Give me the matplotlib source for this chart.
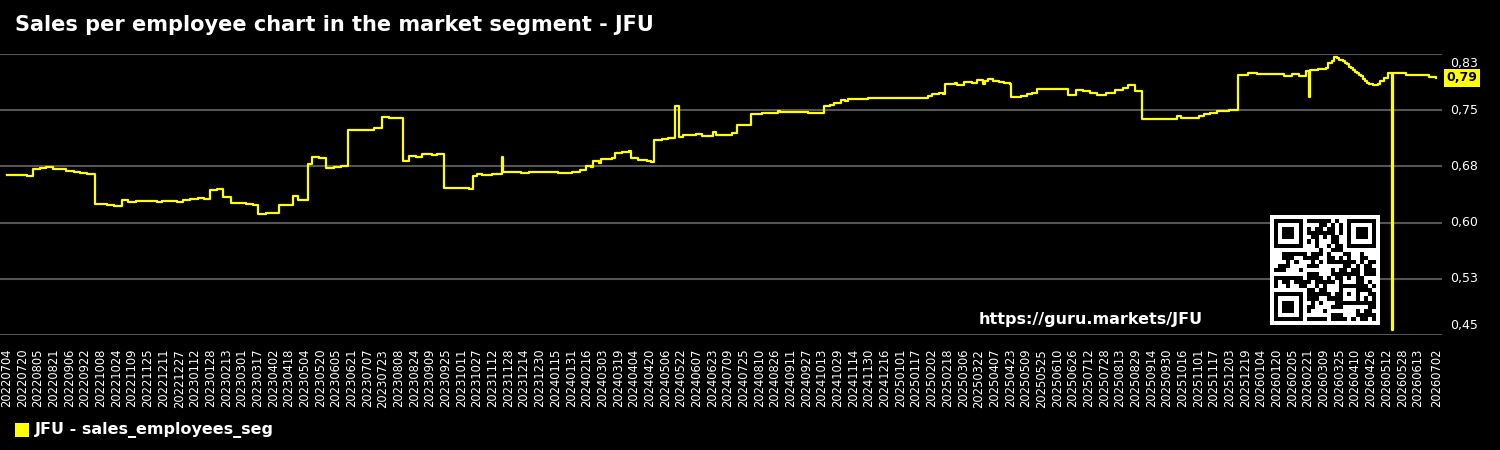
import hashlib
import numpy as np
import pandas as pd
import matplotlib
matplotlib.use("Agg")
import matplotlib.pyplot as plt
import matplotlib.dates as mdates
from matplotlib.patches import Rectangle
from matplotlib.transforms import blended_transform_factory, offset_copy

# Sales per employee (segment) - change points of the series
dates = [
    "2022-07-04", "2022-07-15", "2022-07-25", "2022-07-31", "2022-08-07", "2022-08-13",
    "2022-08-20", "2022-09-03", "2022-09-11", "2022-09-17", "2022-09-24", "2022-10-02",
    "2022-10-14", "2022-10-22", "2022-10-30", "2022-11-05", "2022-11-13", "2022-12-04",
    "2022-12-10", "2022-12-25", "2022-12-31", "2023-01-07", "2023-01-15", "2023-01-21",
    "2023-01-27", "2023-02-04", "2023-02-10", "2023-02-18", "2023-02-26", "2023-03-05",
    "2023-03-12", "2023-03-17", "2023-03-26", "2023-04-08", "2023-04-22", "2023-04-27",
    "2023-05-07", "2023-05-12", "2023-05-19", "2023-05-26", "2023-06-03", "2023-06-10",
    "2023-06-17", "2023-07-02", "2023-07-07", "2023-07-14", "2023-07-22", "2023-07-29",
    "2023-08-12", "2023-08-19", "2023-08-26", "2023-09-01", "2023-09-11", "2023-09-16",
    "2023-09-23", "2023-10-19", "2023-10-23", "2023-10-27", "2023-11-01", "2023-11-11",
    "2023-11-21", "2023-11-22", "2023-12-11", "2023-12-19", "2024-01-18", "2024-02-01",
    "2024-02-09", "2024-02-15", "2024-02-20", "2024-02-22", "2024-02-28", "2024-03-01",
    "2024-03-13", "2024-03-16", "2024-03-23", "2024-03-30", "2024-04-01", "2024-04-08",
    "2024-04-17", "2024-04-21", "2024-04-25", "2024-05-01", "2024-05-03", "2024-05-09",
    "2024-05-15", "2024-05-16", "2024-05-20", "2024-05-24", "2024-06-06", "2024-06-13",
    "2024-06-24", "2024-06-27", "2024-07-13", "2024-07-18", "2024-08-02", "2024-08-13",
    "2024-08-28", "2024-08-29", "2024-08-31", "2024-09-29", "2024-10-15", "2024-10-21",
    "2024-10-25", "2024-11-01", "2024-11-05", "2024-11-09", "2024-11-20", "2024-11-29",
    "2025-01-29", "2025-02-02", "2025-02-09", "2025-02-13", "2025-02-16", "2025-02-20",
    "2025-02-26", "2025-02-28", "2025-03-07", "2025-03-15", "2025-03-20", "2025-03-26",
    "2025-03-28", "2025-03-31", "2025-04-05", "2025-04-12", "2025-04-17", "2025-04-23",
    "2025-04-24", "2025-05-04", "2025-05-10", "2025-05-15", "2025-05-20", "2025-05-30",
    "2025-06-21", "2025-06-29", "2025-07-06", "2025-07-13", "2025-07-21", "2025-07-30",
    "2025-08-08", "2025-08-16", "2025-08-21", "2025-08-28", "2025-09-05", "2025-10-10",
    "2025-10-14", "2025-11-02", "2025-11-07", "2025-11-13", "2025-11-20", "2025-12-02",
    "2025-12-11", "2025-12-22", "2025-12-31", "2026-01-27", "2026-02-05", "2026-02-12",
    "2026-02-19", "2026-02-22", "2026-02-23", "2026-03-03", "2026-03-11", "2026-03-13",
    "2026-03-17", "2026-03-19", "2026-03-22", "2026-03-25", "2026-03-29", "2026-03-31",
    "2026-04-02", "2026-04-04", "2026-04-06", "2026-04-08", "2026-04-10", "2026-04-12",
    "2026-04-14", "2026-04-16", "2026-04-18", "2026-04-20", "2026-04-22", "2026-04-24",
    "2026-04-28", "2026-05-03", "2026-05-05", "2026-05-09", "2026-05-14", "2026-05-18",
    "2026-05-19", "2026-05-25", "2026-06-01", "2026-06-24", "2026-07-02",
]
values = [
    0.664, 0.663, 0.662, 0.672, 0.673, 0.6746,
    0.671, 0.669, 0.6675, 0.6666, 0.665, 0.6246,
    0.6233, 0.6224, 0.630, 0.6273, 0.6287, 0.6273,
    0.6287, 0.6273, 0.6295, 0.6313, 0.633, 0.632,
    0.6438, 0.6447, 0.6348, 0.6255, 0.6264, 0.6246,
    0.6233, 0.6117, 0.6126, 0.6233, 0.6358, 0.6295,
    0.6786, 0.687, 0.6862, 0.6723, 0.6742, 0.676,
    0.7242, 0.7232, 0.7242, 0.726, 0.7406, 0.7393,
    0.6822, 0.6884, 0.687, 0.6916, 0.6902, 0.692,
    0.6455, 0.6442, 0.6625, 0.6643, 0.6630, 0.665,
    0.688, 0.6675, 0.666, 0.667, 0.6666, 0.667,
    0.6696, 0.676, 0.6745, 0.6822, 0.680, 0.6844,
    0.6862, 0.6934, 0.6942, 0.6956, 0.686, 0.684,
    0.6817, 0.6804, 0.7108, 0.7099, 0.712, 0.7124,
    0.713, 0.7554, 0.7148, 0.717, 0.718, 0.716,
    0.7215, 0.717, 0.7192, 0.7304, 0.7451, 0.746,
    0.7464, 0.7487, 0.747, 0.7456, 0.7554, 0.7572,
    0.7594, 0.763, 0.7621, 0.7643, 0.7652, 0.7661,
    0.7693, 0.772, 0.7733, 0.772, 0.7844, 0.7853,
    0.7862, 0.784, 0.7871, 0.7857, 0.7898, 0.7848,
    0.789, 0.7911, 0.7893, 0.7875, 0.7864, 0.7853,
    0.7674, 0.7687, 0.772, 0.7733, 0.7777, 0.7781,
    0.770, 0.7768, 0.7754, 0.773, 0.7706, 0.7727,
    0.7764, 0.780, 0.7831, 0.775, 0.7389, 0.7425,
    0.739, 0.742, 0.7447, 0.7464, 0.7483, 0.7496,
    0.7965, 0.7992, 0.7978, 0.7955, 0.7982, 0.796,
    0.8028, 0.767, 0.8037, 0.8046, 0.806, 0.8135,
    0.8158, 0.821, 0.819, 0.8164, 0.8155, 0.8135,
    0.811, 0.808, 0.806, 0.803, 0.801, 0.7995,
    0.797, 0.795, 0.792, 0.789, 0.786, 0.7844,
    0.783, 0.7853, 0.7884, 0.7935, 0.7992, 0.456,
    0.7992, 0.800, 0.7965, 0.7938, 0.793,
]

y_ticks = [0.45, 0.525, 0.60, 0.675, 0.75, 0.825]
y_tick_labels = ["0,45", "0,53", "0,60", "0,68", "0,75", "0,83"]
first_tick = "2022-07-04"
last_tick = "2026-06-13"
end_tick = "2026-07-02"

title = "Sales per employee chart in the market segment - JFU"
legend_label = "JFU - sales_employees_seg"
url = "https://guru.markets/JFU"
line_color = "#ffff00"

x = pd.to_datetime(dates)

fig = plt.figure(figsize=(15, 4.5), dpi=100, facecolor="black")
ax = fig.add_axes([0.0, 0.2556, 0.9613, 0.6244])
ax.set_facecolor("black")

ax.plot(x, values, drawstyle="steps-post", color=line_color, lw=1.6, zorder=3)

# axes limits
base = pd.Timestamp(first_tick)
ax.set_xlim(mdates.date2num(base - pd.Timedelta(days=6.8)),
            mdates.date2num(base + pd.Timedelta(days=1464.6)))
ax.set_ylim(y_ticks[0], y_ticks[-1])

# x ticks every 16 days plus the last date
xt = list(pd.date_range(first_tick, last_tick, freq="16D")) + [pd.Timestamp(end_tick)]
ax.set_xticks(xt)
ax.set_xticklabels([d.strftime("%Y%m%d") for d in xt], rotation=90,
                   fontsize=8.3, color="white")
ax.tick_params(axis="x", length=0, pad=10)

# y ticks on the right, labels drawn as text so the edge ones can sit inside
ax.yaxis.tick_right()
ax.set_yticks(y_ticks)
ax.set_yticklabels([])
ax.tick_params(axis="y", length=0)
tr = blended_transform_factory(ax.transAxes, ax.transData)
for i, (v, lab) in enumerate(zip(y_ticks, y_tick_labels)):
    dy = 0
    if i == 0:
        dy = 7
    elif i == len(y_ticks) - 1:
        dy = -7
    ax.text(1.0, v, lab, transform=offset_copy(tr, fig=fig, x=6, y=dy, units="points"),
            ha="left", va="center", fontsize=9, color="white", clip_on=False)

ax.grid(axis="y", color="#555555", lw=1.5)
ax.grid(axis="x", visible=False)
for s in ax.spines.values():
    s.set_visible(False)

# last value marker
ax.text(1.003, values[-1], f"{values[-1]:.2f}".replace(".", ","), transform=tr,
        ha="left", va="center", fontsize=9, fontweight="bold", color="black",
        bbox=dict(boxstyle="square,pad=0.2", fc=line_color, ec="none"), zorder=5)

# title, url and legend
fig.text(0.01, 0.944, title, fontsize=15, fontweight="bold", color="white", va="center")
fig.text(0.6527, 0.289, url, fontsize=11.5, fontweight="bold", color="white", va="center")
fig.patches.append(Rectangle((0.01, 0.0289), 0.00933, 0.0311, transform=fig.transFigure,
                             fc=line_color, ec="none"))
fig.text(0.0233, 0.0444, legend_label, fontsize=11.5, fontweight="bold", color="white",
         va="center")

# QR-like code block (decoration)
n = 25
qr = np.zeros((n, n), dtype=int)
bits = "".join(f"{b:08b}" for b in hashlib.sha256(url.encode()).digest() * 3)
k = 0
for i in range(n):
    for j in range(n):
        qr[i, j] = int(bits[k % len(bits)])
        k += 1


def finder(r, c):
    qr[max(r - 1, 0):r + 8, max(c - 1, 0):c + 8] = 0
    qr[r:r + 7, c:c + 7] = 1
    qr[r + 1:r + 6, c + 1:c + 6] = 0
    qr[r + 2:r + 5, c + 2:c + 5] = 1


finder(0, 0)
finder(0, n - 7)
finder(n - 7, 0)
qr[16:21, 16:21] = 1
qr[17:20, 17:20] = 0
qr[18, 18] = 1
qr = np.pad(qr, 1)
qax = fig.add_axes([0.8467, 0.2778, 0.0733, 0.2444])
qax.imshow(qr, cmap="gray_r", interpolation="nearest", vmin=0, vmax=1)
qax.axis("off")

fig.savefig("out.png", dpi=100, facecolor="black")
